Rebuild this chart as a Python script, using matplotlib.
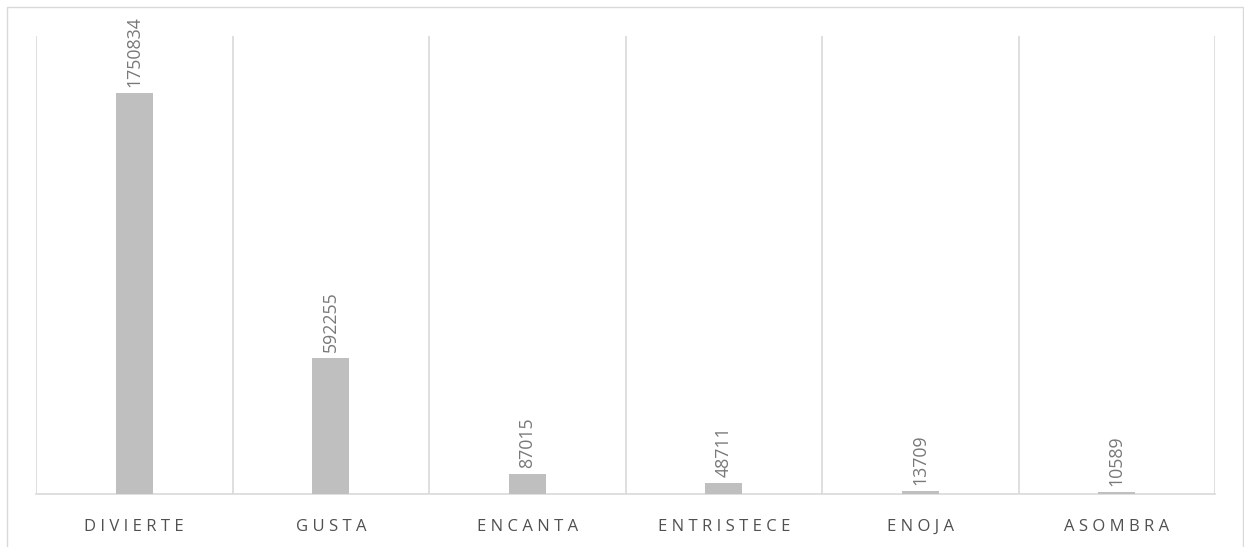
import numpy as np
import matplotlib.pyplot as plt
from matplotlib.patches import Rectangle

# Datos del gráfico
categorias = ['DIVIERTE', 'GUSTA', 'ENCANTA', 'ENTRISTECE', 'ENOJA', 'ASOMBRA']
valores = [1750834, 592255, 87015, 48711, 13709, 10589]

plt.rcParams['font.family'] = ['Open Sans', 'DejaVu Sans']

fig = plt.figure(figsize=(12.44, 5.47), dpi=100)
W, H = 1244, 547
# area del grafico en pixeles
left, right, top, bottom = 36, 1215, 36, 494
ax = fig.add_axes([left / W, (H - bottom) / H, (right - left) / W, (bottom - top) / H])

x = np.arange(len(categorias))
ax.bar(x, valores, width=0.19, color='#bfbfbf', zorder=3)

# etiquetas de datos giradas
for xi, v in zip(x, valores):
    ax.annotate(str(v), (xi, v), xytext=(0, 6), textcoords='offset pixels',
                rotation=90, ha='center', va='bottom', fontsize=12.8, color='#787878')

ax.set_xlim(-0.5, len(categorias) - 0.5)
ax.set_ylim(0, 2000000)

# lineas separadoras entre categorias
for b in np.arange(-0.5, len(categorias), 1.0):
    ax.axvline(b, color='#d9d9d9', linewidth=1.2, zorder=1)

ax.set_yticks([])
ax.set_xticks(x)
ax.set_xticklabels([' '.join(c) for c in categorias], fontsize=12, color='#505050')
ax.tick_params(axis='x', length=0, pad=18)

for s in ['top', 'left', 'right']:
    ax.spines[s].set_visible(False)
ax.spines['bottom'].set_color('#d9d9d9')
ax.spines['bottom'].set_linewidth(1.2)

# borde exterior del grafico (recortado por abajo)
fig.patches.append(Rectangle((7 / W, -0.05), (1243 - 7) / W, (H - 7) / H + 0.05,
                             transform=fig.transFigure, fill=False,
                             edgecolor='#d9d9d9', linewidth=1.0))

fig.savefig('out.png', dpi=100)
